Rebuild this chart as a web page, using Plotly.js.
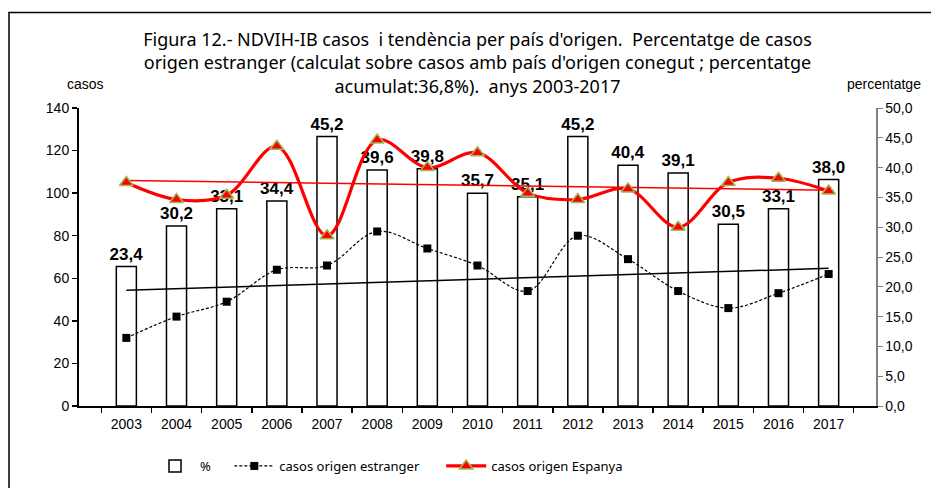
<!DOCTYPE html>
<html>
<head>
<meta charset="utf-8">
<script src="https://cdn.plot.ly/plotly-3.0.1.min.js"></script>
<style>
html,body{margin:0;padding:0;background:#fff;}
#chart{width:931px;height:488px;}
</style>
</head>
<body>
<div id="chart"></div>
<script>
var years = ['2003','2004','2005','2006','2007','2008','2009','2010','2011','2012','2013','2014','2015','2016','2017'];
var pctEstranger = [23.4,30.2,33.1,34.4,45.2,39.6,39.8,35.7,35.1,45.2,40.4,39.1,30.5,33.1,38.0];
var casosEstranger = [32,42,49,64,66,82,74,66,54,80,69,54,46,53,62];
var casosEspanya = [105,97,99,122,80,125,112,119,100,97,102,84,105,107,101];

function linearTrend(vals){
  var n = vals.length, mx = (n-1)/2, my = 0, sxy = 0, sxx = 0;
  vals.forEach(function(v){ my += v; }); my /= n;
  vals.forEach(function(v,i){ sxy += (i-mx)*(v-my); sxx += (i-mx)*(i-mx); });
  var b = sxy/sxx, a = my - b*mx;
  return vals.map(function(v,i){ return a + b*i; });
}

var arial = 'Arial, Liberation Sans, sans-serif';

var traces = [
  {
    type:'bar', x:years, y:pctEstranger, name:'%    ', yaxis:'y', xaxis:'x',
    width:0.4,
    marker:{color:'#ffffff', line:{color:'#000000', width:1.5}},
    texttemplate:'%{y:.1f}', textposition:'outside', constraintext:'none',
    textfont:{family:arial, size:17, color:'#000', weight:'bold'},
    cliponaxis:false
  },
  {
    type:'scatter', mode:'lines', x:years, y:linearTrend(casosEstranger), yaxis:'y2',
    showlegend:false, line:{color:'#000000', width:1.5}
  },
  {
    type:'scatter', mode:'lines', x:years, y:linearTrend(casosEspanya), yaxis:'y2',
    showlegend:false, line:{color:'#ff0000', width:1.5}
  },
  {
    type:'scatter', mode:'lines+markers', x:years, y:casosEstranger, yaxis:'y2',
    name:'casos origen estranger     ',
    line:{color:'#000000', width:1.2, dash:'3px,2px', shape:'spline', smoothing:1},
    marker:{symbol:'square', size:8, color:'#000000'},
    cliponaxis:false
  },
  {
    type:'scatter', mode:'lines+markers', x:years, y:casosEspanya, yaxis:'y2',
    name:'casos origen Espanya',
    line:{color:'#ff0000', width:3.2, shape:'spline', smoothing:1},
    marker:{symbol:'triangle-up', size:12, color:'#ff0000', line:{color:'#9bbb59', width:1.5}},
    cliponaxis:false
  }
];

var tickFont = {family:arial, size:14, color:'#000'};

var layout = {
  width:931, height:488,
  margin:{l:79, r:55, t:108, b:82, autoexpand:false},
  paper_bgcolor:'#fff', plot_bgcolor:'rgba(0,0,0,0)',
  separators:',.',
  showlegend:true,
  hovermode:false,
  title:{
    text:"Figura 12.- NDVIH-IB casos  i tendència per país d'origen.  Percentatge de casos<br>origen estranger (calculat sobre casos amb país d'origen conegut ; percentatge<br>acumulat:36,8%).  anys 2003-2017",
    font:{family:'Noto Sans, sans-serif', size:18, color:'#000'},
    x:0.5, xref:'paper', xanchor:'center',
    y:1-46/488, yref:'container', yanchor:'middle'
  },
  xaxis:{
    type:'category', showgrid:false, zeroline:false,
    showline:true, linecolor:'#000', linewidth:2,
    ticks:'outside', tickson:'boundaries', ticklen:5, tickcolor:'#000', tickwidth:1.5,
    ticklabelstandoff:4,
    tickfont:tickFont, fixedrange:true
  },
  yaxis:{
    range:[0,50], side:'right', showgrid:false, zeroline:false,
    showline:true, linecolor:'#808080', linewidth:1.5,
    ticks:'outside', ticklen:5, tickcolor:'#808080', tickwidth:1,
    dtick:5, tick0:0, tickformat:'.1f',
    tickfont:tickFont, fixedrange:true
  },
  yaxis2:{
    range:[0,140], side:'left', overlaying:'y', showgrid:false, zeroline:false,
    showline:true, linecolor:'#000', linewidth:2,
    ticks:'outside', ticklen:5, tickcolor:'#000', tickwidth:1.5,
    dtick:20, tick0:0,
    tickfont:tickFont, fixedrange:true
  },
  legend:{
    orientation:'h', x:(150-79)/797, xanchor:'left',
    yref:'container', y:(488-466)/488, yanchor:'middle',
    font:{family:'Noto Sans, sans-serif', size:13, color:'#000'},
    traceorder:'normal', itemwidth:40, bgcolor:'rgba(0,0,0,0)'
  },
  annotations:[
    {text:'casos', xref:'paper', yref:'paper', x:(85-79)/797, y:(405.7-84)/297.4,
     showarrow:false, xanchor:'center', yanchor:'middle',
     font:{family:arial, size:14, color:'#000'}},
    {text:'percentatge', xref:'paper', yref:'paper', x:(884-79)/797, y:(405.7-84)/297.4,
     showarrow:false, xanchor:'center', yanchor:'middle',
     font:{family:arial, size:14, color:'#000'}}
  ],
  shapes:[
    {type:'rect', xref:'paper', yref:'paper',
     x0:(9-79)/797, x1:(945-79)/797, y0:(405.7-500)/297.4, y1:(405.7-13)/297.4,
     line:{color:'#000', width:1.5}, fillcolor:'rgba(0,0,0,0)', layer:'below'}
  ]
};

Plotly.newPlot('chart', traces, layout, {displayModeBar:false, staticPlot:true});
</script>
</body>
</html>
